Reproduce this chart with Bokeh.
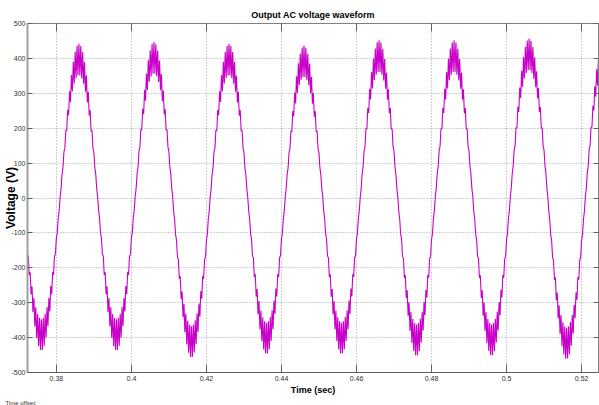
import numpy as np
from bokeh.plotting import figure
from bokeh.models import (FixedTicker, LinearAxis, Range1d, Title)
from bokeh.embed import file_html
from bokeh.resources import INLINE

# ---------------- data ----------------
x_ticks = [0.38, 0.40, 0.42, 0.44, 0.46, 0.48, 0.50, 0.52]
x_tick_labels = ["0.38", "0.4", "0.42", "0.44", "0.46", "0.48", "0.5", "0.52"]
y_ticks = [-500, -400, -300, -200, -100, 0, 100, 200, 300, 400, 500]
y_tick_labels = ["-500", "-400", "-300", "-200", "-100", "0", "100", "200", "300", "400", "500"]

x_range_limits = [0.3723, 0.5245]
y_range_limits = [-500, 500]

fundamental_hz = 50.0
first_extreme_time = 0.376          # first negative trough
# extremes (alternating trough / peak), outer envelope values in volts
extreme_values = [-440, 445, -440, 450, -460, 445, -450, 440,
                  -450, 455, -455, 455, -455, 460, -465]
ripple_at_peak = 48                 # half-width of the switching ripple at the crests
ripple_at_zero = 4                  # half-width near the zero crossings
switching_hz = 2000.0

# ---------------- build the waveform from the values above ----------------
half_period = 0.5 / fundamental_hz
t = np.arange(x_range_limits[0], x_range_limits[1], 1.0 / (switching_hz * 12))
k = np.clip(np.round((t - first_extreme_time) / half_period).astype(int), 0, len(extreme_values) - 1)
ext = np.array(extreme_values, dtype=float)[k]
tk = first_extreme_time + k * half_period
shape = np.cos(2 * np.pi * fundamental_hz * (t - tk))
base = np.sign(ext) * (np.abs(ext) - ripple_at_peak) * shape
r = ripple_at_zero + (ripple_at_peak - ripple_at_zero) * np.abs(shape) ** 2
phase = (t * switching_hz) % 1.0
tri = 4 * np.abs(phase - 0.5) - 1
v = base + r * tri

# ---------------- figure ----------------
FONT = "'Liberation Sans Narrow', 'Arial Narrow', 'Liberation Sans', sans-serif"

p = figure(width=599, height=405, output_backend="svg", toolbar_location=None,
           x_range=Range1d(*x_range_limits), y_range=Range1d(*y_range_limits),
           min_border_left=27, min_border_right=1, min_border_top=23, min_border_bottom=32,
           background_fill_color="white", border_fill_color="white",
           outline_line_color="#808080")

p.title.text = "Output AC voltage waveform"
p.title.align = "center"
p.title.text_font = FONT
p.title.text_font_size = "9px"
p.title.text_font_style = "bold"
p.title.text_color = "black"
p.title.standoff = 7

p.line(t, v, line_color="#C800C8", line_width=1.1)

for ax in p.xaxis:
    ax.ticker = FixedTicker(ticks=x_ticks)
    ax.major_label_overrides = {tk_: lb for tk_, lb in zip(x_ticks, x_tick_labels)}
for ax in p.yaxis:
    ax.ticker = FixedTicker(ticks=y_ticks)
    ax.major_label_overrides = {tk_: lb for tk_, lb in zip(y_ticks, y_tick_labels)}

p.xaxis.axis_label = "Time (sec)"
p.yaxis.axis_label = "Voltage (V)"

for ax in list(p.xaxis) + list(p.yaxis):
    ax.axis_line_color = "#606060"
    ax.major_tick_line_color = "#606060"
    ax.minor_tick_line_color = None
    ax.major_tick_out = 0
    ax.major_label_text_font = FONT
    ax.major_label_text_font_size = "7px"
    ax.major_label_text_color = "#303030"
    ax.major_label_standoff = 3
    ax.axis_label_text_font = FONT
    ax.axis_label_text_font_style = "bold"
    ax.axis_label_text_color = "black"
    ax.axis_label_standoff = 1

p.xaxis.major_tick_in = 8
p.yaxis.major_tick_in = 5
p.yaxis.major_label_standoff = 2
p.yaxis.axis_label_standoff = -10
p.yaxis.axis_label_text_font_size = "12px"
p.xaxis.axis_label_text_font_size = "9px"
p.yaxis.axis_line_width = 2
p.yaxis.axis_line_color = "#a0a0a0"

# tick marks on the top and right borders (no labels)
top_ax = LinearAxis(ticker=FixedTicker(ticks=x_ticks),
                    major_label_overrides={tk_: "" for tk_ in x_ticks},
                    major_label_standoff=0,
                    major_tick_in=8, major_tick_out=0, minor_tick_line_color=None,
                    axis_line_color="#808080", major_tick_line_color="#606060")
right_ax = LinearAxis(ticker=FixedTicker(ticks=y_ticks),
                      major_label_overrides={tk_: "" for tk_ in y_ticks},
                      major_label_standoff=0,
                      major_tick_in=5, major_tick_out=0, minor_tick_line_color=None,
                      axis_line_color="#808080", major_tick_line_color="#606060")
p.add_layout(top_ax, "above")
p.add_layout(right_ax, "right")

p.xgrid.grid_line_color = "#a0a0a0"
p.ygrid.grid_line_color = "#a0a0a0"
p.xgrid.grid_line_dash = "1 2"
p.ygrid.grid_line_dash = "1 2"

p.add_layout(Title(text="Time offset:", align="left", offset=-22, standoff=0,
                   text_font=FONT, text_font_size="6px", text_font_style="normal",
                   text_color="#303030"), "below")

open("out.html", "w").write(file_html(p, INLINE))
